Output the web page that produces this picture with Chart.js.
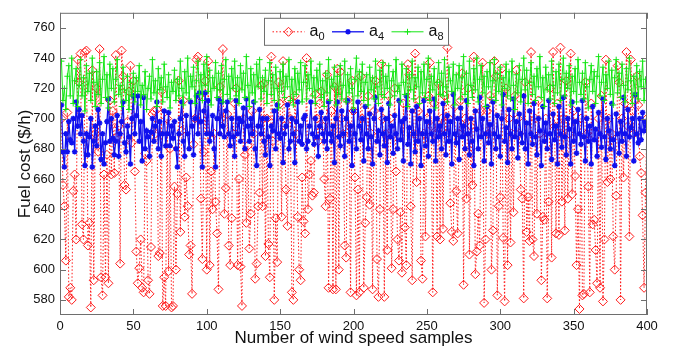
<!DOCTYPE html>
<html>
<head>
<meta charset="utf-8">
<script src="https://cdn.jsdelivr.net/npm/chart.js@4.4.1/dist/chart.umd.min.js"></script>
<style>
  html, body { margin: 0; padding: 0; background: #fff; }
  #wrap { width: 673px; height: 349px; }
</style>
</head>
<body>
<div id="wrap"><canvas id="fuelChart" width="673" height="349"></canvas></div>
<script>
// fuel cost per wind speed sample
const a0 = [
  700,656,642,606,704,582,588,580,652,663,
  620,739,724,743,630,620,744,745,616,631,
  575,732,593,690,720,678,746,595,583,663,
  595,676,591,712,663,705,664,742,688,695,
  604,745,728,656,653,698,718,735,684,725,
  665,612,591,601,620,588,585,677,672,593,
  584,615,703,705,690,706,609,611,718,576,
  595,576,700,599,680,575,576,655,600,650,
  725,625,692,712,635,661,642,610,616,584,
  683,700,739,741,715,647,607,678,725,600,
  738,603,665,640,690,645,624,587,721,700,
  746,637,654,703,616,603,634,690,710,720,
  603,660,602,576,700,676,631,682,614,637,
  705,690,594,604,642,651,722,642,723,609,
  700,617,595,741,685,580,634,605,724,710,
  635,738,695,653,629,712,700,585,580,715,
  690,635,600,593,661,632,624,740,640,663,
  672,649,651,716,700,685,710,718,695,660,
  642,729,588,647,705,587,721,587,733,600,
  731,700,690,616,608,712,695,585,725,705,
  661,583,653,585,728,700,588,631,648,715,
  643,690,587,705,725,607,582,640,736,700,
  582,690,613,715,700,601,640,720,665,620,
  606,638,598,710,628,603,736,729,642,593,
  690,743,658,705,712,606,594,690,622,700,
  715,737,695,585,710,690,622,723,620,700,
  627,715,690,747,700,644,625,619,708,652,
  624,690,712,730,590,700,647,720,610,695,
  656,741,597,612,637,616,705,737,578,620,
  705,690,715,600,626,738,728,583,642,648,
  733,621,579,720,603,700,618,690,638,715,
  732,700,690,653,647,581,724,625,648,619,
  744,620,609,700,637,712,690,593,635,633,
  700,581,645,720,608,744,695,624,710,623,
  747,645,700,626,725,647,690,743,650,705,
  662,603,640,574,700,583,584,724,690,655,
  585,710,630,633,613,591,700,588,715,579,
  620,739,658,700,660,690,622,600,649,735,
  724,580,700,661,710,744,695,622,739,705,
  690,712,728,709,675,664,636,588,651,700
];

const a4 = [
  709,678,668,690,678,698,686,684,700,678,
  711,695,706,690,702,685,669,690,676,688,
  700,668,685,695,682,706,697,673,690,670,
  684,698,713,685,700,687,676,685,702,675,
  690,698,711,684,678,695,688,670,700,715,
  690,702,715,685,698,672,714,680,692,688,
  675,691,700,685,695,711,680,698,675,690,
  705,682,690,704,682,695,687,698,680,668,
  690,700,711,685,675,702,690,680,711,695,
  676,700,715,690,717,698,668,705,717,690,
  712,685,690,702,680,668,700,713,690,711,
  695,688,705,711,690,682,700,688,675,712,
  690,700,685,698,707,680,713,695,685,700,
  690,711,680,669,695,706,690,700,685,676,
  700,688,669,695,692,705,680,709,690,687,
  700,671,690,695,709,680,685,700,690,671,
  698,711,685,695,683,700,702,680,685,695,
  711,690,683,700,688,675,695,704,690,685,
  700,680,711,690,685,695,671,700,711,688,
  682,705,690,675,700,712,685,695,669,705,
  690,680,711,695,686,700,672,708,690,680,
  703,688,670,700,714,685,692,676,706,690,
  682,700,671,710,688,695,677,702,690,680,
  712,686,698,672,700,715,683,694,670,705,
  690,678,708,685,700,669,690,712,682,698,
  675,705,690,685,713,672,700,688,695,680,
  710,690,676,702,685,698,670,716,690,684,
  700,673,707,688,695,680,712,690,676,700,
  685,669,705,693,680,714,688,700,672,690,
  708,684,696,670,711,690,680,702,688,675,
  700,716,685,694,671,706,690,680,713,688,
  698,674,703,690,684,715,680,697,670,705,
  690,683,710,688,676,700,692,669,708,685,
  697,680,712,690,673,703,686,695,670,708,
  690,681,714,688,676,700,693,670,711,685,
  698,677,706,690,683,712,688,672,700,685,
  695,670,708,686,693,675,704,690,681,713,
  688,673,700,692,680,710,686,669,703,690,
  677,698,685,714,690,675,706,688,694,700,
  672,716,690,684,700,686,704,692,698,695
];

const a8 = [
  738,712,720,706,728,735,715,740,710,725,
  733,708,722,739,715,727,705,735,718,730,
  712,740,724,708,731,716,737,710,726,741,
  714,729,707,736,720,733,711,726,739,716,
  722,708,734,719,712,728,706,724,715,730,
  711,727,718,735,709,722,716,731,706,720,
  728,713,739,717,725,708,733,719,727,711,
  736,721,714,729,707,724,718,732,712,726,
  715,738,720,709,731,717,740,713,728,721,
  734,710,725,738,716,729,712,736,722,741,
  718,732,709,727,720,737,714,730,719,735,
  711,726,739,716,728,713,733,720,738,715,
  727,710,735,719,730,714,741,722,708,733,
  717,729,711,736,721,739,713,727,718,732,
  710,725,737,716,729,712,734,720,707,731,
  718,736,714,728,721,739,712,726,709,733,
  716,730,719,737,711,724,735,713,729,720,
  738,715,727,710,732,719,736,714,725,708,
  730,717,739,712,726,721,734,709,728,716,
  735,713,722,738,711,729,717,733,720,707,
  726,740,715,731,718,736,712,724,729,709,
  734,719,727,713,738,721,710,732,716,737,
  714,728,720,735,709,725,731,715,739,718,
  722,711,736,724,716,733,708,729,719,738,
  713,727,721,734,710,731,717,736,714,726,
  740,712,728,719,733,707,724,737,716,730,
  715,739,721,711,734,725,718,736,709,729,
  720,735,713,727,741,716,730,710,738,722,
  714,733,719,740,711,726,735,717,728,708,
  731,721,737,714,725,739,712,730,718,734,
  709,727,720,736,715,731,713,738,722,706,
  729,717,735,711,726,740,719,732,710,724,
  737,716,728,712,733,721,741,714,727,708,
  734,719,729,713,738,722,710,731,717,736,
  712,726,740,715,730,720,735,709,728,718,
  733,711,739,724,716,730,713,737,721,707,
  726,735,718,731,710,728,741,715,724,734,
  712,729,720,738,716,732,709,727,739,717,
  730,714,736,722,711,733,719,740,725,710,
  728,716,735,713,731,721,738,712,726,720
];

const seriesSubs = ["0", "4", "8"];
const xTicks = [0, 50, 100, 150, 200, 250, 300, 350, 400];
const yTicks = [580, 600, 620, 640, 660, 680, 700, 720, 740, 760];

const toPoints = arr => arr.map((v, i) => ({ x: i + 1, y: v }));
const font = "'Liberation Sans', Arial, sans-serif";

// MATLAB style box with inward ticks on all four sides
const boxPlugin = {
  id: "box",
  afterDatasetsDraw(chart) {
    const { ctx, chartArea: a, scales: { x, y } } = chart;
    ctx.save();
    ctx.strokeStyle = "#6e6e6e";
    ctx.lineWidth = 1;
    ctx.strokeRect(a.left + 0.5, a.top + 0.5, a.right - a.left - 1, a.bottom - a.top - 1);
    ctx.beginPath();
    xTicks.forEach(v => {
      const px = Math.round(x.getPixelForValue(v)) + 0.5;
      ctx.moveTo(px, a.bottom); ctx.lineTo(px, a.bottom - 6);
      ctx.moveTo(px, a.top); ctx.lineTo(px, a.top + 6);
    });
    yTicks.forEach(v => {
      const py = Math.round(y.getPixelForValue(v)) + 0.5;
      ctx.moveTo(a.left, py); ctx.lineTo(a.left + 6, py);
      ctx.moveTo(a.right, py); ctx.lineTo(a.right - 6, py);
    });
    ctx.stroke();
    ctx.restore();
  }
};

// legend box at the top centre, line + marker + a with subscript
const legendPlugin = {
  id: "matLegend",
  afterDraw(chart) {
    const { ctx, chartArea: a } = chart;
    const w = 184, h = 27;
    const left = Math.round((a.left + a.right) / 2 - w / 2 + 2) + 0.5;
    const top = a.top + 5.5;
    ctx.save();
    ctx.fillStyle = "#fff";
    ctx.fillRect(left, top, w, h);
    ctx.strokeStyle = "#6e6e6e";
    ctx.lineWidth = 1;
    ctx.strokeRect(left, top, w, h);
    const cy = top + h / 2;
    chart.data.datasets.forEach((ds, i) => {
      const x0 = left + 8 + i * 59.5;
      ctx.strokeStyle = ds.borderColor;
      ctx.lineWidth = ds.borderWidth;
      ctx.setLineDash(ds.borderDash || []);
      ctx.beginPath();
      ctx.moveTo(x0, cy);
      ctx.lineTo(x0 + 32, cy);
      ctx.stroke();
      ctx.setLineDash([]);
      ctx.fillStyle = ds.pointBackgroundColor;
      ctx.strokeStyle = ds.pointBorderColor;
      ctx.lineWidth = ds.pointBorderWidth;
      Chart.helpers.drawPoint(ctx, {
        pointStyle: ds.pointStyle, radius: ds.pointRadius, rotation: 0,
        borderWidth: ds.pointBorderWidth
      }, x0 + 16, cy);
      ctx.fillStyle = "#111";
      ctx.textBaseline = "alphabetic";
      ctx.font = "16px " + font;
      ctx.fillText("a", x0 + 37, cy + 4);
      const aw = ctx.measureText("a").width;
      ctx.font = "11px " + font;
      ctx.fillText(seriesSubs[i], x0 + 37 + aw, cy + 8);
    });
    ctx.restore();
  }
};

new Chart(document.getElementById("fuelChart"), {
  type: "line",
  data: {
    datasets: [
      {
        label: "a0",
        data: toPoints(a0),
        borderColor: "#ff1a1a",
        borderWidth: 1,
        borderDash: [1.5, 2],
        pointStyle: "rectRot",
        pointRadius: 4.5,
        pointBorderWidth: 1,
        pointBorderColor: "#ff1a1a",
        pointBackgroundColor: "rgba(255,255,255,0)",
        order: 2
      },
      {
        label: "a4",
        data: toPoints(a4),
        borderColor: "#1010ee",
        borderWidth: 1.3,
        pointStyle: "star",
        pointRadius: 2.8,
        pointBorderWidth: 1.5,
        pointBorderColor: "#1010ee",
        pointBackgroundColor: "#1010ee",
        order: 1
      },
      {
        label: "a8",
        data: toPoints(a8),
        borderColor: "#14e614",
        borderWidth: 1,
        pointStyle: "cross",
        pointRadius: 3,
        pointBorderWidth: 1,
        pointBorderColor: "#14e614",
        pointBackgroundColor: "#14e614",
        order: 0
      }
    ]
  },
  options: {
    responsive: false,
    animation: false,
    devicePixelRatio: 1,
    layout: { padding: { left: 0, right: 26, top: 10, bottom: 0 } },
    plugins: {
      legend: { display: false },
      tooltip: { enabled: false }
    },
    elements: { line: { tension: 0 } },
    scales: {
      x: {
        type: "linear",
        min: 0,
        max: 400,
        grid: { display: false, drawTicks: false },
        border: { display: false },
        afterBuildTicks: axis => { axis.ticks = xTicks.map(v => ({ value: v })); },
        afterFit: axis => { axis.height = 34; },
        ticks: { color: "#111", font: { family: font, size: 13 }, padding: 4, maxRotation: 0 },
        title: {
          display: true,
          text: "Number of wind speed samples",
          color: "#111",
          font: { family: font, size: 17 },
          padding: { top: 0, bottom: 0 }
        }
      },
      y: {
        min: 570,
        max: 770,
        grid: { display: false, drawTicks: false },
        border: { display: false },
        afterBuildTicks: axis => { axis.ticks = yTicks.map(v => ({ value: v })); },
        afterFit: axis => { axis.width = 60; },
        ticks: { color: "#111", font: { family: font, size: 13 }, padding: 5 },
        title: {
          display: true,
          text: "Fuel cost ($/h)",
          color: "#111",
          font: { family: font, size: 17 },
          padding: { top: 15, bottom: 0 }
        }
      }
    }
  },
  plugins: [boxPlugin, legendPlugin]
});
</script>
</body>
</html>
